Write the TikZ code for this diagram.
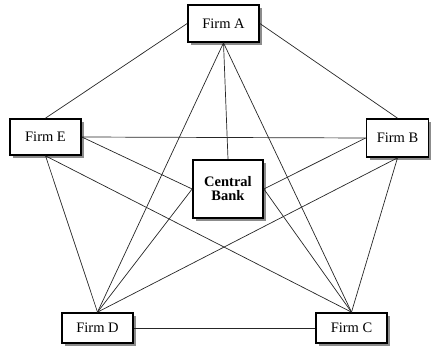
\documentclass[tikz,border=0pt]{standalone}
\usepackage{fontspec}
\setmainfont{Liberation Serif}
\usetikzlibrary{shadows}
\begin{document}
\begin{tikzpicture}[x=1pt,y=-1pt,
  firm/.style={draw=black,line width=1.7pt,fill=white,inner sep=0pt,
    font=\fontsize{14.5}{14}\selectfont,align=center,
    general shadow={fill=black!45,draw=none,shadow xshift=3pt,shadow yshift=-3pt,opacity=1}},
  link/.style={line width=0.7pt,draw=black!85}]
\useasboundingbox (0,0) rectangle (431,352);
\node[firm,minimum width=71pt,minimum height=37pt] (A) at (223.5,23.5) {Firm A};
\node[firm,minimum width=71pt,minimum height=36pt] (E) at (45.5,137) {Firm E};
\node[firm,minimum width=62pt,minimum height=38pt] (B) at (397.5,138) {Firm B};
\node[firm,minimum width=70pt,minimum height=58pt,font=\fontsize{14.5}{14}\selectfont\bfseries] (CB) at (228,189) {Central\\Bank};
\node[firm,minimum width=71pt,minimum height=30pt] (D) at (97.5,328) {Firm D};
\node[firm,minimum width=71pt,minimum height=30pt] (C) at (351.5,328) {Firm C};
\draw[link] (A.west) -- (E.north);
\draw[link] (A.east) -- (B.north);
\draw[link] (A.south) -- (D.north);
\draw[link] (A.south) -- (CB.north);
\draw[link] (A.south) -- (C.north);
\draw[link] (E.east) -- (B.west);
\draw[link] (E.east) -- (CB.west);
\draw[link] (E.south) -- (D.north);
\draw[link] (E.south) -- (C.north);
\draw[link] (B.west) -- (CB.east);
\draw[link] (B.south) -- (D.north);
\draw[link] (B.south) -- (C.north);
\draw[link] (CB.west) -- (D.north);
\draw[link] (CB.east) -- (C.north);
\draw[link] (D.east) -- (C.west);
\end{tikzpicture}
\end{document}
